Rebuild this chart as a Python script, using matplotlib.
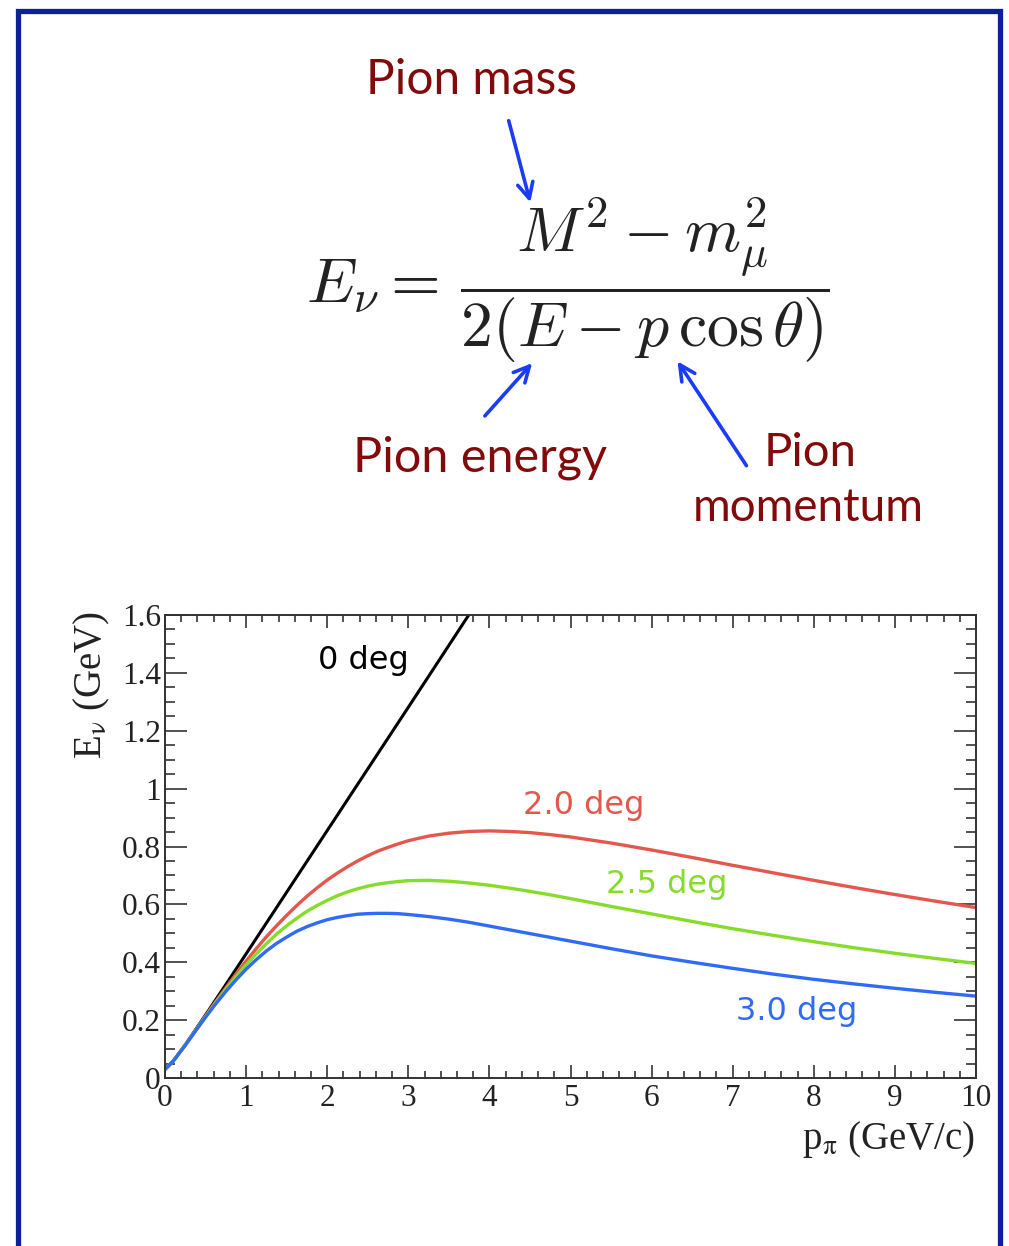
import numpy as np
import matplotlib
matplotlib.use('Agg')
import matplotlib.pyplot as plt
from matplotlib.patches import Rectangle, FancyArrowPatch
from matplotlib.ticker import MultipleLocator, FuncFormatter

# pion momentum (GeV/c) and neutrino energy (GeV)
p_0deg = [0.0, 0.1, 0.25, 0.5, 0.75, 1.0, 1.5, 2.0, 2.5, 3.0, 3.5, 3.75, 4.0]
e_0deg = [0.030, 0.058, 0.115, 0.218, 0.323, 0.429, 0.642, 0.855, 1.068, 1.281, 1.495, 1.602, 1.708]

p_deg = [0.0, 0.1, 0.25, 0.375, 0.5, 0.625, 0.75, 0.875, 1.0, 1.125, 1.25, 1.375, 1.5,
         1.625, 1.75, 1.875, 2.0, 2.125, 2.25, 2.375, 2.5, 2.625, 2.75, 2.875, 3.0, 3.25,
         3.5, 3.75, 4.0, 4.25, 4.5, 4.75, 5.0, 5.5, 6.0, 6.5, 7.0, 7.5, 8.0, 8.5, 9.0,
         9.5, 10.0]
e_2p0 = [0.030, 0.058, 0.114, 0.164, 0.214, 0.264, 0.312, 0.359, 0.404, 0.447, 0.488,
         0.526, 0.562, 0.596, 0.628, 0.657, 0.684, 0.708, 0.730, 0.750, 0.768, 0.784,
         0.797, 0.809, 0.820, 0.836, 0.846, 0.852, 0.854, 0.852, 0.848, 0.841, 0.833,
         0.812, 0.788, 0.762, 0.735, 0.709, 0.683, 0.658, 0.634, 0.611, 0.589]
e_2p5 = [0.030, 0.058, 0.114, 0.163, 0.212, 0.260, 0.306, 0.350, 0.391, 0.429, 0.464,
         0.497, 0.526, 0.552, 0.576, 0.596, 0.614, 0.630, 0.643, 0.654, 0.663, 0.670,
         0.675, 0.679, 0.682, 0.683, 0.680, 0.674, 0.666, 0.656, 0.645, 0.633, 0.620,
         0.593, 0.567, 0.541, 0.516, 0.493, 0.471, 0.450, 0.431, 0.413, 0.396]
e_3p0 = [0.030, 0.058, 0.113, 0.162, 0.210, 0.256, 0.299, 0.339, 0.376, 0.409, 0.439,
         0.465, 0.487, 0.507, 0.523, 0.536, 0.547, 0.555, 0.561, 0.566, 0.568, 0.569,
         0.569, 0.568, 0.565, 0.558, 0.549, 0.538, 0.525, 0.512, 0.499, 0.486, 0.473,
         0.447, 0.422, 0.400, 0.379, 0.359, 0.341, 0.325, 0.310, 0.296, 0.283]

labels = ['0 deg', '2.0 deg', '2.5 deg', '3.0 deg']
colors = ['black', '#e3574c', '#86dc2a', '#2f6bf4']

W, H = 1009, 1246
fig = plt.figure(figsize=(W / 100, H / 100), dpi=100)


def fx(x):
    return x / W


def fy(y):
    return 1 - y / H


# slide frame
fig.patches.append(Rectangle((fx(18), fy(1260)), fx(1000) - fx(18), fy(11) - fy(1260),
                             transform=fig.transFigure, fill=False,
                             edgecolor='#0e1f9c', lw=3.8, zorder=0))

# formula
fig.text(fx(306), fy(280), r'$E_\nu =\, \dfrac{M^2 - m_\mu^2}{2(E - p\,\cos\theta)}$',
         math_fontfamily='cm', fontsize=46, color='#222222', ha='left', va='center')

red_txt = '#830a0a'
afont = 'Lato'
fig.text(fx(472), fy(80), 'Pion mass', fontsize=34.5, family=afont, color=red_txt,
         ha='center', va='center')
fig.text(fx(480), fy(458), 'Pion energy', fontsize=35, family=afont, color=red_txt,
         ha='center', va='center')
fig.text(fx(810), fy(453), 'Pion', fontsize=34, family=afont, color=red_txt,
         ha='center', va='center')
fig.text(fx(808), fy(508), 'momentum', fontsize=33, family=afont, color=red_txt,
         ha='center', va='center')

arrow_col = '#1b3cf5'
for (x0, y0), (x1, y1) in [((508, 118), (531, 205)),
                           ((483, 418), (534, 361)),
                           ((748, 468), (676, 359))]:
    fig.add_artist(FancyArrowPatch(
        (fx(x0), fy(y0)), (fx(x1), fy(y1)), transform=fig.transFigure,
        arrowstyle='->', mutation_scale=28, lw=2.6, color=arrow_col))

# the plot
ax = fig.add_axes([fx(165), fy(1078), fx(976) - fx(165), fy(615) - fy(1078)])
ax.plot(p_0deg, e_0deg, color=colors[0], lw=2.2)
ax.plot(p_deg, e_2p0, color=colors[1], lw=2.4)
ax.plot(p_deg, e_2p5, color=colors[2], lw=2.4)
ax.plot(p_deg, e_3p0, color=colors[3], lw=2.4)
ax.set_xlim(0, 10)
ax.set_ylim(0, 1.6)

lab_pos = [(1.89, 1.415), (4.41, 0.912), (5.44, 0.639), (7.04, 0.199)]
for (lx, ly), t, c in zip(lab_pos, labels, colors):
    ax.text(lx, ly, t, color=c, fontsize=23, family='DejaVu Sans', ha='left', va='baseline')

for s in ax.spines.values():
    s.set_color('#333333')
    s.set_linewidth(1.4)
ax.xaxis.set_major_locator(MultipleLocator(1))
ax.xaxis.set_minor_locator(MultipleLocator(0.2))
ax.yaxis.set_major_locator(MultipleLocator(0.2))
ax.yaxis.set_minor_locator(MultipleLocator(0.05))
fmt = FuncFormatter(lambda v, pos: '%g' % round(v, 2))
ax.xaxis.set_major_formatter(fmt)
ax.yaxis.set_major_formatter(fmt)
ax.tick_params(axis='both', which='both', direction='in', top=True, right=True,
               colors='#333333', width=1.2, labelcolor='#222222')
ax.tick_params(axis='y', which='major', length=16, pad=3)
ax.tick_params(axis='y', which='minor', length=7)
ax.tick_params(axis='x', which='major', length=9.5, pad=4)
ax.tick_params(axis='x', which='minor', length=5)
for lab in ax.get_xticklabels() + ax.get_yticklabels():
    lab.set_family('Liberation Serif')
    lab.set_fontsize(22.5)
# ROOT draws the y "0" a little higher than the x "0"
ax.get_yticklabels()[0].set_va('bottom')
ax.get_yticklabels()[0].set_y(-0.03)

fig.text(fx(92), fy(611), r'E$_{\mathrm{\nu}}$ (GeV)', rotation=90, family='Liberation Serif',
         math_fontfamily='stix', fontsize=28, color='#222222', ha='center', va='top')
fig.text(fx(975), fy(1140), r'p$_{\mathrm{\pi}}$ (GeV/c)', family='Liberation Serif',
         math_fontfamily='stix', fontsize=28, color='#222222', ha='right', va='center')

fig.savefig('out.png', dpi=100)
